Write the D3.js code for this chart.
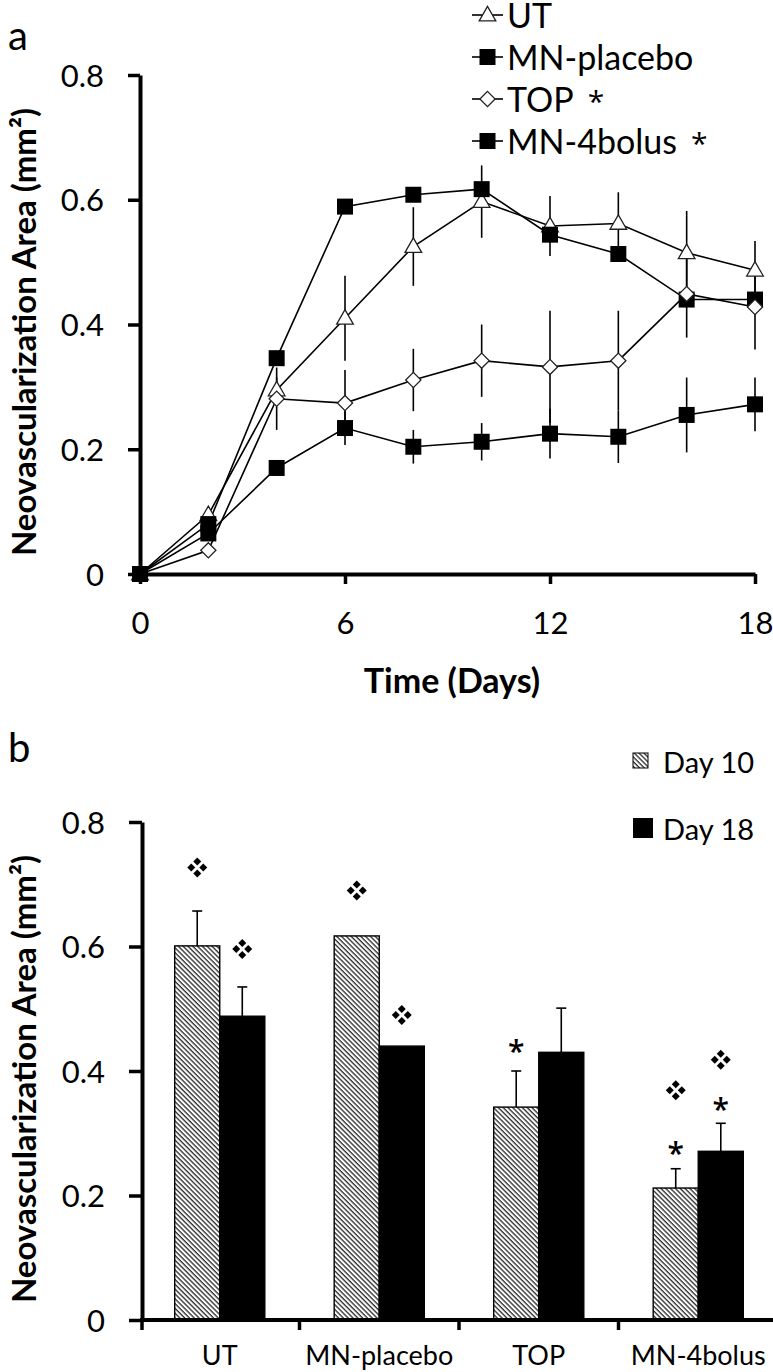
<!DOCTYPE html>
<html><head><meta charset="utf-8">
<script src="https://cdn.jsdelivr.net/npm/d3@7"></script>
<style>
body{margin:0;background:#fff}
svg{display:block}
text{font-family:Lato,'Open Sans',sans-serif;fill:#000}
</style>
</head><body>
<svg id="c" width="773" height="1372"></svg>
<script>
// ---------- Panel a data ----------
const days = [0, 2, 4, 6, 8, 10, 12, 14, 16, 18];
const utVals        = [0, 0.095, 0.295, 0.410, 0.525, 0.597, 0.558, 0.562, 0.515, 0.487];
const utErr         = [0, 0.012, 0.020, 0.068, 0.063, 0.058, 0.048, 0.050, 0.067, 0.047];
const placeboVals   = [0, 0.080, 0.346, 0.589, 0.608, 0.617, 0.544, 0.513, 0.440, 0.440];
const placeboErr    = [0, 0, 0, 0, 0, 0, 0, 0, 0, 0];
const topVals       = [0, 0.038, 0.281, 0.274, 0.311, 0.342, 0.332, 0.342, 0.449, 0.428];
const topErr        = [0, 0.005, 0.050, 0.053, 0.050, 0.058, 0.090, 0.080, 0.070, 0.068];
const bolusVals     = [0, 0.065, 0.170, 0.234, 0.204, 0.212, 0.225, 0.220, 0.255, 0.272];
const bolusErr      = [0, 0, 0.010, 0.027, 0.027, 0.030, 0.040, 0.042, 0.060, 0.043];
const seriesNames   = ["UT", "MN-placebo", "TOP", "MN-4bolus"];
const seriesStars   = [false, false, true, true];
const xTicksA = [0, 6, 12, 18];
const yTicks  = [0, 0.2, 0.4, 0.6, 0.8];

// ---------- Panel b data ----------
const categories = ["UT", "MN-placebo", "TOP", "MN-4bolus"];
const groups     = ["Day 10", "Day 18"];
const day10Vals  = [0.601, 0.617, 0.342, 0.212];
const day10Err   = [0.056, 0, 0.058, 0.031];
const day18Vals  = [0.488, 0.440, 0.430, 0.271];
const day18Err   = [0.047, 0, 0.071, 0.045];
// significance marks: [category, group, y-value]
const diamondMarks = [["UT","Day 10",0.727],["UT","Day 18",0.596],["MN-placebo","Day 10",0.690],
                      ["MN-placebo","Day 18",0.490],["MN-4bolus","Day 10",0.369],["MN-4bolus","Day 18",0.418]];
const starMarks    = [["TOP","Day 10",0.442],["MN-4bolus","Day 10",0.278],["MN-4bolus","Day 18",0.349]];

const svg = d3.select("#c");
const FONT = "Lato,'Open Sans',sans-serif";
const STARFONT = "'Open Sans',sans-serif";

// hatch pattern
const defs = svg.append("defs");
const pat = defs.append("pattern").attr("id","hatch").attr("patternUnits","userSpaceOnUse")
  .attr("width",3.4).attr("height",3.4).attr("patternTransform","rotate(-45)");
pat.append("rect").attr("width",3.4).attr("height",3.4).attr("fill","#fff");
pat.append("line").attr("x1",1).attr("y1",0).attr("x2",1).attr("y2",3.4)
  .attr("stroke","#000").attr("stroke-width",1.1);

// ================= PANEL A =================
const xA = d3.scaleLinear().domain([0,18]).range([140,755]);
const yA = d3.scaleLinear().domain([0,0.8]).range([574,75]);
const fmt = d => d === 0 ? "0" : d3.format(".1f")(d);

svg.append("text").attr("x",8).attr("y",50).attr("font-size",40).text("a");

const gyA = svg.append("g").attr("transform","translate(140,0)")
  .call(d3.axisLeft(yA).tickValues(yTicks).tickSize(12).tickSizeOuter(0).tickPadding(24).tickFormat(fmt));
gyA.select(".domain").attr("stroke-width",4);
gyA.selectAll(".tick line").attr("stroke-width",3.5);
gyA.selectAll(".tick text").attr("font-size",31).style("font-family",FONT).attr("dy","0.36em");

const gxA = svg.append("g").attr("transform","translate(0,574)")
  .call(d3.axisBottom(xA).tickValues(xTicksA).tickSize(10).tickSizeOuter(0).tickPadding(28));
gxA.select(".domain").attr("stroke-width",4);
gxA.selectAll(".tick line").attr("stroke-width",3.5);
gxA.selectAll(".tick text").attr("font-size",31).style("font-family",FONT).attr("dy","0.71em");

svg.append("text").attr("x",452).attr("y",693).attr("text-anchor","middle")
  .attr("font-size",34).attr("font-weight","bold").text("Time (Days)");
svg.append("text").attr("transform","translate(36,332) rotate(-90)").attr("text-anchor","middle")
  .attr("font-size",33).attr("font-weight","bold").text("Neovascularization Area (mm²)");

const seriesA = [
  {name:"UT", vals:utVals, err:utErr, sym:"tri"},
  {name:"MN-placebo", vals:placeboVals, err:placeboErr, sym:"sq"},
  {name:"TOP", vals:topVals, err:topErr, sym:"dia"},
  {name:"MN-4bolus", vals:bolusVals, err:bolusErr, sym:"sq"}
];
const symPath = {
  tri: d3.symbol().type(d3.symbolTriangle).size(120)(),
  sq:  d3.symbol().type(d3.symbolSquare).size(256)(),
  dia: d3.symbol().type(d3.symbolSquare).size(115)()
};
function drawMarker(g, type, x, y){
  const p = g.append("path").attr("d", symPath[type]);
  if(type==="sq") p.attr("transform",`translate(${x},${y})`).attr("fill","#000");
  else if(type==="tri") p.attr("transform",`translate(${x},${y+1})`).attr("fill","#fff").attr("stroke","#222").attr("stroke-width",1.3);
  else p.attr("transform",`translate(${x},${y}) rotate(45)`).attr("fill","#fff").attr("stroke","#222").attr("stroke-width",1.3);
}

const gErr = svg.append("g");
seriesA.forEach(s => {
  days.forEach((d,i) => {
    if(s.err[i] > 0){
      gErr.append("line").attr("x1",xA(d)).attr("x2",xA(d))
        .attr("y1",yA(s.vals[i]-s.err[i])).attr("y2",yA(s.vals[i]+s.err[i]))
        .attr("stroke","#000").attr("stroke-width",1.6);
    }
  });
});
const line = d3.line().x((v,i)=>xA(days[i])).y(v=>yA(v));
const gLines = svg.append("g");
seriesA.forEach(s => {
  gLines.append("path").attr("d", line(s.vals)).attr("fill","none").attr("stroke","#000").attr("stroke-width",1.6);
});
const gMarks = svg.append("g");
seriesA.forEach(s => {
  days.forEach((d,i) => drawMarker(gMarks, s.sym, xA(d), yA(s.vals[i])));
});

// legend a
const legBase = [28, 70, 112, 154];
const gLeg = svg.append("g");
seriesA.forEach((s,i) => {
  const cy = legBase[i] - 13;
  gLeg.append("line").attr("x1",472).attr("x2",503).attr("y1",cy).attr("y2",cy).attr("stroke","#000").attr("stroke-width",1.6);
  drawMarker(gLeg, s.sym, 487.5, cy);
  const t = gLeg.append("text").attr("x",507).attr("y",legBase[i]).attr("font-size",34).text(seriesNames[i]);
  if(seriesStars[i]) t.append("tspan").attr("dx",14).style("font-family",STARFONT).attr("font-size",30).text("*");
});

// ================= PANEL B =================
const yB = d3.scaleLinear().domain([0,0.8]).range([1320,822]);
const xB = d3.scaleBand().domain(categories).range([140,778]);
const xSub = d3.scaleBand().domain(groups).range([0, xB.bandwidth()]).paddingInner(0).paddingOuter(0.77);

svg.append("text").attr("x",8).attr("y",762).attr("font-size",40).text("b");

const gyB = svg.append("g").attr("transform","translate(142,0)")
  .call(d3.axisLeft(yB).tickValues(yTicks).tickSize(13).tickSizeOuter(0).tickPadding(24).tickFormat(fmt));
gyB.select(".domain").attr("stroke-width",4);
gyB.selectAll(".tick line").attr("stroke-width",3.5);
gyB.selectAll(".tick text").attr("font-size",31).style("font-family",FONT).attr("dy","0.36em");

svg.append("text").attr("transform","translate(36,1079) rotate(-90)").attr("text-anchor","middle")
  .attr("font-size",33).attr("font-weight","bold").text("Neovascularization Area (mm²)");

const barData = [];
categories.forEach((c,i) => {
  barData.push({c, g:"Day 10", v:day10Vals[i], e:day10Err[i]});
  barData.push({c, g:"Day 18", v:day18Vals[i], e:day18Err[i]});
});
const bx = d => xB(d.c) + xSub(d.g);
const bw = xSub.bandwidth();
// error bars (upper only)
barData.filter(d=>d.e>0).forEach(d => {
  const cx = bx(d) + bw/2;
  svg.append("line").attr("x1",cx).attr("x2",cx).attr("y1",yB(d.v)).attr("y2",yB(d.v+d.e)).attr("stroke","#000").attr("stroke-width",1.6);
  svg.append("line").attr("x1",cx-5).attr("x2",cx+5).attr("y1",yB(d.v+d.e)).attr("y2",yB(d.v+d.e)).attr("stroke","#000").attr("stroke-width",1.6);
});
svg.append("g").selectAll("rect").data(barData).join("rect")
  .attr("x", bx).attr("width", bw)
  .attr("y", d => yB(d.v)).attr("height", d => yB(0)-yB(d.v))
  .attr("fill", d => d.g==="Day 10" ? "url(#hatch)" : "#000")
  .attr("stroke","#000").attr("stroke-width",1.4);

// x axis b
const gxB = svg.append("g");
gxB.append("line").attr("x1",140).attr("x2",778).attr("y1",1320).attr("y2",1320).attr("stroke","#000").attr("stroke-width",4);
const bounds = categories.map(c => xB(c)).concat([xB.range()[1]]);
bounds.forEach((x,i) => {
  gxB.append("line").attr("x1",i===0?142:x).attr("x2",i===0?142:x).attr("y1",1320).attr("y2",1330)
    .attr("stroke","#000").attr("stroke-width",3.5);
});
categories.forEach(c => {
  gxB.append("text").attr("x", xB(c)+xB.bandwidth()/2).attr("y",1365).attr("text-anchor","middle")
    .attr("font-size",27).text(c);
});

// significance marks
function drawClover(x,y){
  const g = svg.append("g").attr("transform",`translate(${x},${y})`);
  [[0,-6],[-6,0],[6,0],[0,6]].forEach(([dx,dy]) => {
    g.append("path").attr("d","M0,-4L4,0L0,4L-4,0Z").attr("transform",`translate(${dx},${dy})`).attr("fill","#000");
  });
}
diamondMarks.forEach(([c,g,v]) => drawClover(xB(c)+xSub(g)+bw/2, yB(v)));
starMarks.forEach(([c,g,v]) => {
  svg.append("text").attr("x", xB(c)+xSub(g)+bw/2).attr("y", yB(v)+17).attr("text-anchor","middle")
    .style("font-family",STARFONT).attr("font-size",30).attr("font-weight",600).text("*");
});

// legend b
svg.append("rect").attr("x",633).attr("y",753).attr("width",15).attr("height",15)
  .attr("fill","url(#hatch)").attr("stroke","#000").attr("stroke-width",1);
svg.append("text").attr("x",663).attr("y",773).attr("font-size",29).text("Day 10");
svg.append("rect").attr("x",633).attr("y",818).attr("width",20).attr("height",20).attr("fill","#000");
svg.append("text").attr("x",663).attr("y",840).attr("font-size",29).text("Day 18");
</script>
</body></html>
